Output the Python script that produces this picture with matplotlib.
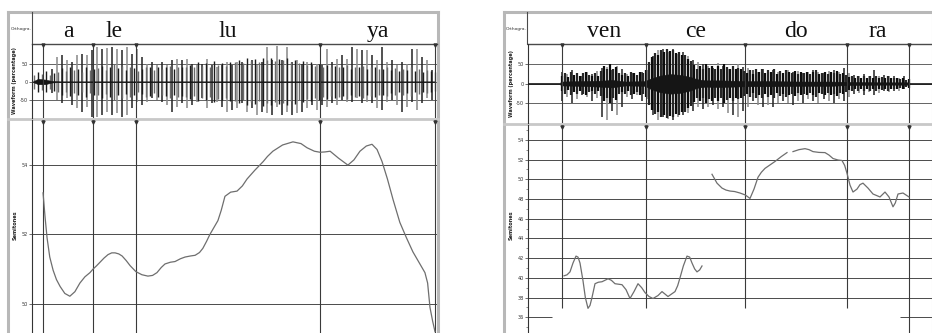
import matplotlib.pyplot as plt
import numpy as np
from matplotlib.transforms import blended_transform_factory

W, H = 932, 333

# ---------------- left utterance: "a le lu ya" ----------------
left_syllables = ['a', 'le', 'lu', 'ya']
left_bounds = [0.030, 0.179, 0.307, 0.857, 1.200]

left_pitch_t = [0.030, 0.036, 0.042, 0.050, 0.060, 0.070, 0.081, 0.095, 0.110, 0.125,
                0.140, 0.155, 0.170, 0.179, 0.190, 0.200, 0.212, 0.224, 0.235, 0.245,
                0.256, 0.266, 0.278, 0.290, 0.307, 0.325, 0.343, 0.357, 0.370, 0.383,
                0.394, 0.410, 0.424, 0.440, 0.454, 0.470, 0.484, 0.497, 0.507, 0.518,
                0.528, 0.540, 0.552, 0.562, 0.573, 0.590, 0.609, 0.625, 0.639, 0.662,
                0.687, 0.700, 0.716, 0.745, 0.776, 0.800, 0.818, 0.840, 0.857, 0.872,
                0.887, 0.912, 0.940, 0.958, 0.976, 0.995, 1.012, 1.027, 1.042, 1.058,
                1.075, 1.095, 1.115, 1.134, 1.152, 1.170, 1.178, 1.185, 1.193, 1.200]
left_pitch_st = [53.2, 52.5, 51.9, 51.35, 50.97, 50.7, 50.5, 50.3, 50.22, 50.35,
                 50.6, 50.78, 50.9, 51.0, 51.1, 51.2, 51.32, 51.42, 51.47, 51.47,
                 51.44, 51.38, 51.25, 51.1, 50.93, 50.84, 50.8, 50.82, 50.9, 51.05,
                 51.15, 51.2, 51.22, 51.3, 51.35, 51.38, 51.4, 51.48, 51.6, 51.8,
                 52.0, 52.2, 52.4, 52.7, 53.1, 53.22, 53.25, 53.4, 53.6, 53.85,
                 54.1, 54.25, 54.4, 54.58, 54.67, 54.62, 54.5, 54.4, 54.37, 54.38,
                 54.4, 54.2, 54.0, 54.15, 54.4, 54.55, 54.6, 54.45, 54.1, 53.6,
                 53.0, 52.35, 51.9, 51.5, 51.2, 50.9, 50.6, 49.9, 49.5, 49.2]

# dense core of the waveform (percentage)
left_core_t = [0.0, 0.015, 0.036, 0.057, 0.081, 0.179, 0.307, 0.439, 0.588, 0.737,
               0.857, 0.976, 1.095, 1.200]
left_core_hi = [1, 8, 6, 2, 1, 1, 1, 1, 1, 1, 1, 1, 1, 1]
left_core_lo = [-1, -7, -7, -2, -1, -1, -1, -1, -1, -1, -1, -1, -1, -1]

# glottal pulses (peak / trough, percentage)
left_spike_span = (0.057, 1.190)
left_spike_hi = [37, 70, 74, 61, 56, 74, 79, 74, 88, 97, 93, 95, 97, 93, 88, 97, 79, 93,
                 70, 51, 56, 47, 56, 47, 61, 65, 61, 65, 51, 47, 51, 65, 47, 42, 47, 56,
                 47, 56,
                 56, 51, 61, 47, 56, 97, 61, 100, 61, 97, 56, 61, 51, 56, 47, 51, 47, 93,
                 56, 65, 74, 65, 97, 93, 88, 88, 74, 61, 97, 56, 61, 47, 56, 51, 93, 93,
                 70, 61, 33]
left_spike_lo = [-33, -52, -61, -47, -65, -75, -84, -70, -100, -98, -93, -84, -93, -89,
                 -98, -93, -75, -56, -65, -56, -47, -51, -56, -65, -84, -70, -61, -75,
                 -65, -56, -47, -75, -61, -56, -70, -84, -80, -75,
                 -61, -84, -75, -93, -84, -89, -93, -70, -93, -84, -93, -89, -84, -75,
                 -65, -80, -65, -70, -61, -65, -51, -56, -56, -47, -61, -56, -61, -75,
                 -80, -56, -51, -65, -84, -70, -56, -80, -61, -47, -51]

# secondary oscillations between the pulses (magnitude, percentage)
left_minor_span = (0.003, 1.200)
left_minor_amp = [20, 28, 22, 30, 20, 25,
                  28, 38, 30, 40, 32, 36, 28, 42, 32, 36,
                  38, 45, 34, 42, 50, 38, 45, 34, 42, 38, 30,
                  35, 42, 40, 32, 42, 36, 40, 45, 36, 42, 40,
                  42, 48, 40, 55, 45, 52, 42, 58, 48, 52, 45, 55,
                  55, 60, 52, 66, 58, 64, 55, 68, 60, 66, 58, 64, 60, 66, 55, 62, 52, 58,
                  48, 55, 45, 50,
                  42, 48, 40, 45, 42, 40, 48, 36, 42, 40, 45, 36, 40, 42, 36,
                  36, 40, 32, 38, 30, 36, 32, 40, 30, 35, 28, 32, 30, 26]

# ---------------- right utterance: "ven ce do ra" ----------------
right_syllables = ['ven', 'ce', 'do', 'ra']
right_bounds = [0.102, 0.354, 0.651, 0.957, 1.143]

right_pitch_t1 = [0.108, 0.117, 0.126, 0.135, 0.144, 0.150, 0.156, 0.165, 0.172, 0.180,
                  0.186, 0.192, 0.201, 0.211, 0.222, 0.240, 0.250, 0.261, 0.282, 0.294,
                  0.306, 0.318, 0.330, 0.341, 0.351, 0.363, 0.375, 0.390, 0.402, 0.420,
                  0.441, 0.449, 0.456, 0.466, 0.477, 0.485, 0.492, 0.500, 0.507, 0.515,
                  0.522]
right_pitch_st1 = [40.2, 40.3, 40.6, 41.5, 42.2, 42.1, 41.5, 39.7, 38.0, 36.9,
                   37.2, 38.0, 39.4, 39.55, 39.6, 39.9, 39.75, 39.4, 39.3, 38.8,
                   37.9, 38.6, 39.4, 39.0, 38.5, 38.1, 37.9, 38.2, 38.6, 38.1,
                   38.6, 39.2, 40.0, 41.2, 42.2, 42.1, 41.5, 40.9, 40.6, 40.8,
                   41.2]
right_pitch_t2 = [0.552, 0.567, 0.582, 0.594, 0.606, 0.620, 0.636, 0.652, 0.666, 0.678,
                  0.690, 0.700, 0.711, 0.726, 0.741, 0.760, 0.777]
right_pitch_st2 = [50.5, 49.6, 49.1, 48.9, 48.8, 48.75, 48.6, 48.4, 48.05, 49.0,
                   50.2, 50.7, 51.1, 51.45, 51.8, 52.3, 52.7]
right_pitch_t3 = [0.795, 0.813, 0.831, 0.843, 0.855, 0.873, 0.891, 0.903, 0.915, 0.930,
                  0.942, 0.950, 0.957, 0.966, 0.975, 0.987, 0.996, 1.005, 1.020, 1.035,
                  1.056, 1.071, 1.083, 1.095, 1.102, 1.110, 1.125, 1.143]
right_pitch_st3 = [52.8, 53.0, 53.1, 53.0, 52.8, 52.72, 52.7, 52.45, 52.1, 51.95,
                   51.9, 51.4, 50.6, 49.4, 48.7, 49.0, 49.45, 49.6, 49.1, 48.5,
                   48.2, 48.7, 48.2, 47.2, 47.6, 48.5, 48.6, 48.2]
right_floor_stubs = [(0.0, 0.072), (1.116, 1.212)]

right_core_t = [0.0, 0.096, 0.099, 0.156, 0.216, 0.252, 0.291, 0.351, 0.366, 0.396,
                0.426, 0.456, 0.486, 0.507, 0.531, 0.576, 0.651, 0.726, 0.816, 0.906,
                0.957, 1.056, 1.143, 1.146, 1.212]
right_core_hi = [1.6, 1.6, 5, 6, 7, 9, 5, 6, 12, 20, 24, 22, 17, 11, 8, 8, 6, 6,
                 5, 5, 4, 3, 3, 1.6, 1.6]
right_core_lo = [-1.6, -1.6, -5, -6, -8, -10, -5, -6, -13, -22, -26, -24, -18, -11,
                 -8, -9, -7, -7, -6, -6, -4, -3, -3, -1.6, -1.6]

right_spike_span = (0.102, 1.143)
right_spike_hi = [30, 25, 34, 28, 20, 30, 25, 32,
                  40, 42, 35, 45, 38,
                  25, 28, 22, 30, 35,
                  70, 85, 89, 80, 88, 75, 80, 70, 60, 55,
                  50, 45, 40, 52, 45, 38, 45, 50, 42, 40,
                  35, 30, 38, 32, 35, 30, 28, 35, 30, 32, 28, 30, 35, 30, 28, 32, 35, 30, 40, 28,
                  22, 20, 25, 18, 34, 20, 22, 18, 20, 15, 18, 12]
right_spike_lo = [-45, -35, -50, -40, -30, -35, -45, -38,
                  -85, -93, -70, -80, -60,
                  -35, -40, -30, -45, -40,
                  -80, -93, -85, -90, -93, -85, -80, -75, -70, -60,
                  -65, -60, -55, -64, -60, -75, -80, -85, -70, -60,
                  -45, -55, -60, -55, -60, -50, -45, -50, -55, -45, -50, -40, -45, -50, -40,
                  -45, -50, -40, -45, -35,
                  -28, -25, -30, -22, -30, -25, -20, -22, -18, -20, -15, -12]

right_minor_span = (0.102, 1.143)
right_minor_amp = [20, 26, 16, 30, 22, 28, 20, 26, 30, 22, 18, 26, 20,
                   32, 45, 38, 50, 36, 42, 28,
                   22, 28, 20, 30, 26, 22, 30, 28, 35,
                   55, 68, 78, 72, 85, 80, 88, 82, 86, 78, 80, 72, 74, 62, 58, 48,
                   38, 45, 36, 50, 40, 46, 38, 44, 36, 50, 42, 38, 44, 36, 40, 38, 32,
                   28, 34, 25, 36, 30, 38, 28, 34, 30, 36, 25, 32, 28, 34, 30, 28, 32, 25,
                   30, 28, 30, 25, 30, 34, 25, 28, 30, 25, 30, 28, 32, 25, 28, 22,
                   16, 19, 13, 18, 15, 20, 13, 18, 15, 19, 14, 16, 13, 18, 15, 13, 15, 12,
                   14, 10, 12]


def rect(x0, y0, x1, y1):
    return [x0 / W, 1 - y1 / H, (x1 - x0) / W, (y1 - y0) / H]


GRID = '#4a4a4a'
FRAME = '#b8b8b8'
SERIF = ['Liberation Serif', 'DejaVu Serif']

fig = plt.figure(figsize=(W / 100, H / 100), dpi=100)
fig.patch.set_facecolor('white')

bg = fig.add_axes([0, 0, 1, 1])
bg.set_xlim(0, W)
bg.set_ylim(H, 0)
bg.axis('off')


def style_y(ax, fs=3.6):
    for s in ['top', 'right', 'bottom']:
        ax.spines[s].set_visible(False)
    ax.spines['left'].set_color('#333333')
    ax.spines['left'].set_linewidth(0.8)
    ax.tick_params(axis='y', labelsize=fs, length=2, width=0.5, pad=1, colors='#333333')
    ax.set_xticks([])
    ax.patch.set_alpha(0)


def panel(frame, xcol, x0, x1, wave_y, pitch_y, xlim, wave_lim, pitch_lim, pitch_ticks,
          syllables, bounds, core, spikes, minor, pitch_segs, pitch_cut=None, stubs=(),
          minor_cols=('#6a6a6a', '#1c1c1c'), minor_lw=1.0):
    fx0, fx1 = frame
    # outer frame of the window
    bg.plot([fx0, fx1], [12, 12], color=FRAME, lw=2.2)
    bg.plot([fx0, fx0], [12, H], color=FRAME, lw=2.2)
    bg.plot([fx1, fx1], [12, H], color=FRAME, lw=2.2)
    bg.plot([xcol, xcol], [12, 44], color=GRID, lw=0.8)
    bg.plot([fx0, fx1], [wave_y[1] + 1, wave_y[1] + 1], color='#c8c8c8', lw=2.0)
    bg.text((fx0 + xcol) / 2 + 1, 29, 'Orthogra.', fontsize=3.2, ha='center', va='center',
            color='#333333')
    bg.text(fx0 + 7, (wave_y[0] + wave_y[1]) / 2, 'Waveform (percentage)', rotation=90,
            fontsize=3.6, fontweight='bold', ha='center', va='center', color='#222222')
    bg.text(fx0 + 7, 225, 'Semitones', rotation=90, fontsize=3.6, fontweight='bold',
            ha='center', va='center', color='#222222')

    # header with the syllables
    hdr = fig.add_axes(rect(x0, 12, x1, 44))
    hdr.set_xlim(*xlim)
    hdr.set_ylim(0, 1)
    for s in ['top', 'left', 'right']:
        hdr.spines[s].set_visible(False)
    hdr.spines['bottom'].set_color(GRID)
    hdr.spines['bottom'].set_linewidth(1.0)
    hdr.set_xticks([])
    hdr.set_yticks([])
    hdr.patch.set_alpha(0)
    mids = [(a + b) / 2 for a, b in zip(bounds[:-1], bounds[1:])]
    for m, s in zip(mids, syllables):
        hdr.text(m, 0.22, s, fontsize=17, family=SERIF, ha='center', va='baseline',
                 color='#111111')

    # waveform
    wv = fig.add_axes(rect(x0, wave_y[0], x1, wave_y[1]))
    wv.set_xlim(*xlim)
    wv.set_ylim(*wave_lim)
    style_y(wv)
    wv.set_yticks([-50, 0, 50])
    wv.set_yticklabels(['-50', '0', '50'])
    for v in [-50, 0, 50]:
        wv.axhline(v, color=GRID, lw=0.6, zorder=1)
    ct, chi, clo = core
    wv.fill_between(ct, clo, chi, color='#151515', lw=0.4, zorder=3)
    (s0, s1), shi, slo = spikes
    st = np.linspace(s0, s1, len(shi))
    cols = ['#8c8c8c' if i % 2 else '#2a2a2a' for i in range(len(shi))]
    wv.vlines(st, slo, shi, colors=cols, lw=1.15, zorder=2)
    (m0, m1), amp = minor
    mt = np.linspace(m0, m1, len(amp))
    amp = np.array(amp, dtype=float)
    mcols = [minor_cols[i % 2] for i in range(len(amp))]
    wv.vlines(mt, -amp, amp, colors=mcols, lw=minor_lw, zorder=2.5)
    wv.vlines(bounds, wave_lim[0], wave_lim[1], color='#3a3a3a', lw=0.8, zorder=4)
    tr = blended_transform_factory(wv.transData, wv.transAxes)
    wv.plot(bounds, [0.985] * len(bounds), 'v', ms=2.2, color='#333333', transform=tr,
            clip_on=False, zorder=5)

    # pitch track in semitones
    pt = fig.add_axes(rect(x0, pitch_y[0], x1, pitch_y[1]))
    pt.set_xlim(*xlim)
    pt.set_ylim(*pitch_lim)
    style_y(pt)
    pt.set_yticks(pitch_ticks)
    for v in pitch_ticks:
        if pitch_cut is not None and v == pitch_ticks[0]:
            continue
        pt.axhline(v, color=GRID, lw=0.7, zorder=1)
    for a, b in stubs:
        pt.hlines(pitch_ticks[0], a, b, color=GRID, lw=0.7)
    if pitch_cut is None:
        pt.vlines(bounds, pitch_lim[0], pitch_lim[1], color='#3a3a3a', lw=0.8)
    else:
        pt.set_yticks(np.arange(pitch_ticks[0] - 1, pitch_ticks[-1] + 2, 1), minor=True)
        pt.tick_params(axis='y', which='minor', length=1.2, width=0.4, colors='#333333')
        pt.vlines(bounds[:-1], pitch_cut, pitch_lim[1], color='#3a3a3a', lw=0.8)
        pt.vlines(bounds[-1:], pitch_lim[0], pitch_lim[1], color='#3a3a3a', lw=0.8)
    tr = blended_transform_factory(pt.transData, pt.transAxes)
    pt.plot(bounds, [0.99] * len(bounds), 'v', ms=2.2, color='#333333', transform=tr,
            clip_on=False, zorder=5)
    for t, v in pitch_segs:
        pt.plot(t, v, color='#6e6e6e', lw=0.9, zorder=3, solid_joinstyle='round')


panel((8, 438), 32, 32, 437, (44, 118), (120, 333), (-0.003, 1.206), (-102, 106),
      (49.16, 55.3), [50, 52, 54], left_syllables, left_bounds,
      (left_core_t, left_core_hi, left_core_lo),
      (left_spike_span, left_spike_hi, left_spike_lo),
      (left_minor_span, left_minor_amp),
      [(left_pitch_t, left_pitch_st)])

panel((504, 933), 527, 528, 932, (44, 123), (125, 333), (0.0, 1.212), (-101, 101),
      (34.4, 55.5), list(range(36, 55, 2)), right_syllables, right_bounds,
      (right_core_t, right_core_hi, right_core_lo),
      (right_spike_span, right_spike_hi, right_spike_lo),
      (right_minor_span, right_minor_amp),
      [(right_pitch_t1, right_pitch_st1), (right_pitch_t2, right_pitch_st2),
       (right_pitch_t3, right_pitch_st3)],
      pitch_cut=36.9, stubs=right_floor_stubs, minor_cols=('#0c0c0c', '#262626'),
      minor_lw=1.6)

fig.savefig('out.png', dpi=100, facecolor='white')
